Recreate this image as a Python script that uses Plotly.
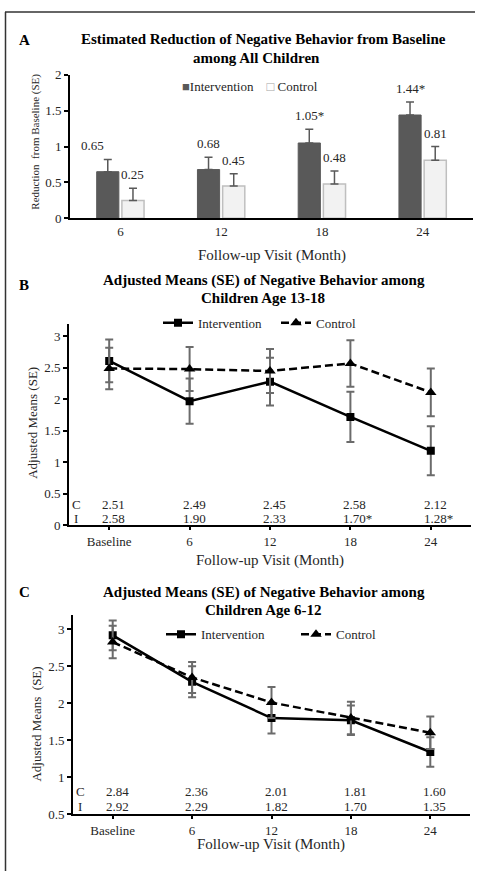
import plotly.graph_objects as go

# ---------------- data ----------------
# Panel A
a_months = ["6", "12", "18", "24"]
a_int = [0.65, 0.68, 1.05, 1.44]
a_int_se = [0.17, 0.17, 0.19, 0.18]
a_ctrl = [0.25, 0.45, 0.48, 0.81]
a_ctrl_se = [0.17, 0.17, 0.18, 0.19]
a_int_labels = ["0.65", "0.68", "1.05*", "1.44*"]
a_ctrl_labels = ["0.25", "0.45", "0.48", "0.81"]

# Panel B / C
visits = ["Baseline", "6", "12", "18", "24"]
b_int = [2.61, 1.97, 2.28, 1.72, 1.18]
b_int_se = [0.34, 0.36, 0.38, 0.40, 0.39]
b_ctrl = [2.49, 2.48, 2.45, 2.57, 2.11]
b_ctrl_se = [0.33, 0.35, 0.35, 0.37, 0.38]
b_ctrl_text = ["2.51", "2.49", "2.45", "2.58", "2.12"]
b_int_text = ["2.58", "1.90", "2.33", "1.70*", "1.28*"]

c_int = [2.92, 2.29, 1.80, 1.77, 1.34]
c_int_se = [0.20, 0.21, 0.21, 0.20, 0.20]
c_ctrl = [2.83, 2.35, 2.01, 1.80, 1.60]
c_ctrl_se = [0.22, 0.21, 0.21, 0.22, 0.22]
c_ctrl_text = ["2.84", "2.36", "2.01", "1.81", "1.60"]
c_int_text = ["2.92", "2.29", "1.82", "1.70", "1.35"]

# ---------------- styling helpers ----------------
W, H = 480, 879
FONT = "Liberation Serif, Times New Roman, serif"
TXT = "#262626"


def fx(px):
    return px / W


def fy(py):
    return 1 - py / H


fig = go.Figure()

# Panel A bars
fig.add_trace(go.Bar(
    x=a_months, y=a_int, name="Intervention", xaxis="x", yaxis="y",
    marker=dict(color="#595959", line=dict(color="#595959", width=1)),
    error_y=dict(type="data", array=a_int_se, arrayminus=[0] * len(a_int_se),
                 symmetric=False, color="#595959", thickness=1.5, width=4),
    showlegend=False,
))
fig.add_trace(go.Bar(
    x=a_months, y=a_ctrl, name="Control", xaxis="x", yaxis="y",
    marker=dict(color="#f2f2f2", line=dict(color="#bfbfbf", width=1.5)),
    error_y=dict(type="data", array=a_ctrl_se, arrayminus=[0] * len(a_ctrl_se),
                 symmetric=False, color="#595959", thickness=1.5, width=4),
    showlegend=False,
))

ERR = "#6b6b6b"


def add_lines(xa, ya, leg, yi, yi_se, yc, yc_se):
    fig.add_trace(go.Scatter(
        x=visits, y=yi, name="Intervention", xaxis=xa, yaxis=ya, mode="lines+markers",
        line=dict(color="black", width=2.5),
        marker=dict(symbol="square", size=8, color="black"),
        error_y=dict(type="data", array=yi_se, color=ERR, thickness=2, width=4),
        legend=leg,
    ))
    fig.add_trace(go.Scatter(
        x=visits, y=yc, name="Control", xaxis=xa, yaxis=ya, mode="lines+markers",
        line=dict(color="black", width=2.5, dash="8px,4px"),
        marker=dict(symbol="triangle-up", size=10, color="black"),
        error_y=dict(type="data", array=yc_se, color=ERR, thickness=2, width=4),
        legend=leg,
    ))


add_lines("x2", "y2", "legend2", b_int, b_int_se, b_ctrl, b_ctrl_se)
add_lines("x3", "y3", "legend3", c_int, c_int_se, c_ctrl, c_ctrl_se)

axis_common = dict(
    showgrid=False, zeroline=False, showline=True, linecolor="black", linewidth=2,
    tickfont=dict(family=FONT, size=13, color=TXT), fixedrange=True,
)

layout = dict(
    width=W, height=H, margin=dict(l=0, r=0, t=0, b=0),
    paper_bgcolor="white", plot_bgcolor="white",
    font=dict(family=FONT, size=13, color=TXT),
    bargap=0.5, bargroupgap=0.12, barmode="group",
    xaxis=dict(domain=[fx(70), fx(473)], anchor="y", type="category",
               range=[-0.5, 3.5], ticks="", **axis_common),
    yaxis=dict(domain=[fy(215), fy(69)], anchor="x", range=[0, 2], dtick=0.5,
               ticks="outside", ticklen=4, tickwidth=1.5, tickcolor="black", **axis_common),
    xaxis2=dict(domain=[fx(69), fx(471)], anchor="y2", type="category",
                range=[-0.5, 4.5], ticks="outside", ticklen=3, tickwidth=1.5,
                tickcolor="black", **axis_common),
    yaxis2=dict(domain=[fy(527), fy(323)], anchor="x2", range=[0, 3.19], dtick=0.5,
                ticks="outside", ticklen=4, tickwidth=1.5, tickcolor="black", **axis_common),
    xaxis3=dict(domain=[fx(73), fx(470)], anchor="y3", type="category",
                range=[-0.5, 4.5], ticks="outside", ticklen=3, tickwidth=1.5,
                tickcolor="black", **axis_common),
    yaxis3=dict(domain=[fy(821), fy(619)], anchor="x3", range=[0.5, 3.19], dtick=0.5,
                ticks="outside", ticklen=4, tickwidth=1.5, tickcolor="black", **axis_common),
    legend2=dict(orientation="h", x=fx(158), y=fy(306), xanchor="left", yanchor="top",
                 bgcolor="rgba(0,0,0,0)", entrywidth=73, font=dict(size=13, color=TXT)),
    legend3=dict(orientation="h", x=fx(161), y=fy(623), xanchor="left", yanchor="top",
                 bgcolor="rgba(0,0,0,0)", entrywidth=90, font=dict(size=13, color=TXT)),
    showlegend=True,
)
fig.update_layout(**layout)

ann = []


def ptext(text, x, y, size=13, bold=False, xanchor="center", color=TXT, angle=0):
    t = f"<b>{text}</b>" if bold else text
    ann.append(dict(text=t, x=fx(x), y=fy(y), xref="paper", yref="paper",
                    xanchor=xanchor, yanchor="middle", showarrow=False, textangle=angle,
                    font=dict(family=FONT, size=size, color=color)))


# Titles
ptext("A", 24, 34, size=15, bold=True, color="black")
ptext("Estimated Reduction of Negative Behavior from Baseline", 263, 33, 15, True, color="black")
ptext("among All Children", 256, 52, 15, True, color="black")
ptext("B", 24, 283, size=15, bold=True, color="black")
ptext("Adjusted Means (SE) of Negative Behavior among", 264, 278, 15, True, color="black")
ptext("Children Age 13-18", 263, 296, 15, True, color="black")
ptext("C", 24, 595, size=15, bold=True, color="black")
ptext("Adjusted Means (SE) of Negative Behavior among", 264, 596, 15, True, color="black")
ptext("Children Age 6-12", 263, 613, 15, True, color="black")

# Panel A legend (compact, as in the reference)
ptext("<span style='color:#595959'>\u25A0</span>Intervention\u00a0\u00a0\u00a0\u00a0"
      "<span style='color:#a6a6a6'>\u25A1</span>\u00a0Control", 180, 81, 13, xanchor="left")

# Axis titles
ptext("Follow-up Visit (Month)", 272, 253, 15)
ptext("Follow-up Visit (Month)", 270, 563, 15)
ptext("Follow-up Visit (Month)", 271, 852, 15)
ptext("Reduction  from Baseline (SE)", 36, 137, 11, angle=-90)
ptext("Adjusted Means (SE)", 33, 423, 13, angle=-90)
ptext("Adjusted Means  (SE)", 37, 730, 13, angle=-90)

# Panel A value labels
for i in range(len(a_months)):
    ann.append(dict(text=a_int_labels[i], x=i, y=a_int[i] + a_int_se[i], xref="x", yref="y",
                    xanchor="center", yanchor="bottom", yshift=4,
                    xshift=-12.6 - (15 if i == 0 else 0), showarrow=False,
                    font=dict(family=FONT, size=13, color=TXT)))
    ann.append(dict(text=a_ctrl_labels[i], x=i, y=a_ctrl[i] + a_ctrl_se[i], xref="x", yref="y",
                    xanchor="center", yanchor="bottom", yshift=4, xshift=12.6, showarrow=False,
                    font=dict(family=FONT, size=13, color=TXT)))


def table_rows(xa, ya, ctrl_txt, int_txt, yc, yi, letter_x):
    f = dict(family=FONT, size=13, color=TXT)
    ann.append(dict(text="C", x=fx(letter_x), y=yc, xref="paper", yref=ya, xanchor="left",
                    yanchor="middle", showarrow=False, font=f))
    ann.append(dict(text="I", x=fx(letter_x + 1.5), y=yi, xref="paper", yref=ya, xanchor="left",
                    yanchor="middle", showarrow=False, font=f))
    for i in range(len(visits)):
        ann.append(dict(text=ctrl_txt[i], x=i, y=yc, xref=xa, yref=ya, xanchor="left",
                        yanchor="middle", xshift=-9, showarrow=False, font=f))
        ann.append(dict(text=int_txt[i], x=i, y=yi, xref=xa, yref=ya, xanchor="left",
                        yanchor="middle", xshift=-9, showarrow=False, font=f))


table_rows("x2", "y2 domain", b_ctrl_text, b_int_text, 0.100, 0.034, 70)
table_rows("x3", "y3 domain", c_ctrl_text, c_int_text, 0.112, 0.040, 74)

fig.update_layout(annotations=ann)

# outer frame (top and left edges visible in the reference)
fig.add_shape(type="line", xref="paper", yref="paper", x0=fx(5), x1=fx(475), y0=fy(5), y1=fy(5),
              line=dict(color="#333333", width=1.5))
fig.add_shape(type="line", xref="paper", yref="paper", x0=fx(5.5), x1=fx(5.5), y0=fy(5), y1=0,
              line=dict(color="#333333", width=1.5))

fig.write_html("out.html", config={"displayModeBar": False},
               post_script="document.body.style.margin='0px';document.body.style.overflow='hidden';")
